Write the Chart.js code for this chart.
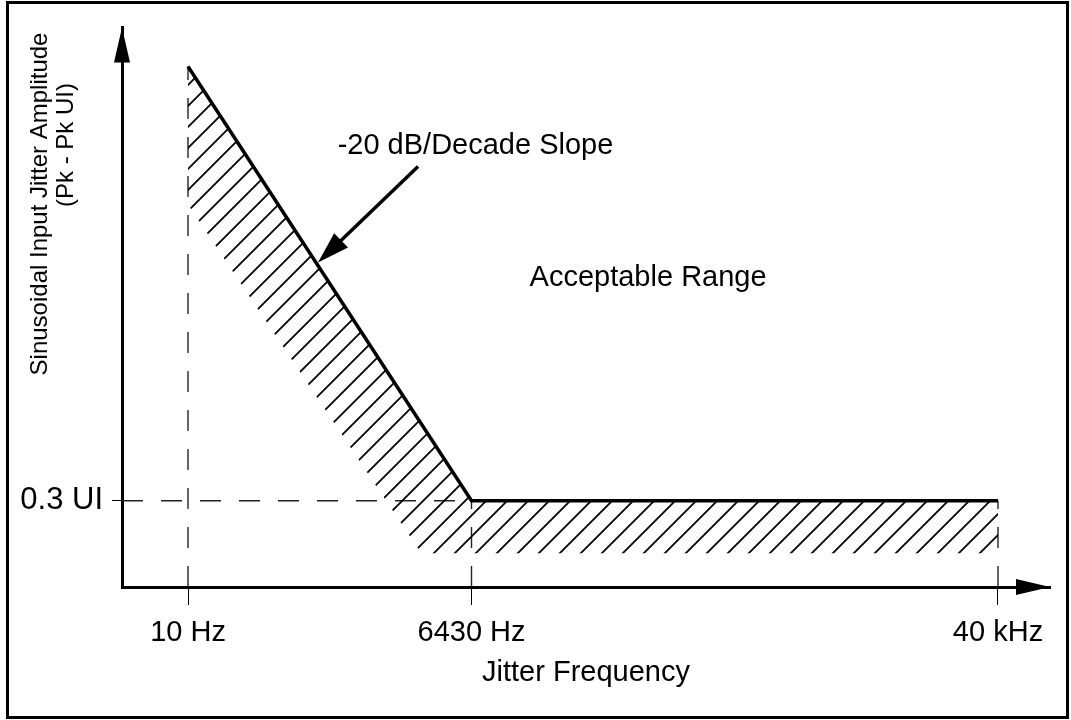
<!DOCTYPE html>
<html lang="en">
  <head>
    <meta charset="UTF-8" />
    <title>Sinusoidal Input Jitter Tolerance</title>
    <script src="https://cdn.jsdelivr.net/npm/chart.js"></script>
    <style>
      body {
        margin: 0;
        background: #fff;
      }
      .frame {
        position: relative;
        width: 1071px;
        height: 720px;
      }
      .frame::after {
        content: '';
        position: absolute;
        box-sizing: border-box;
        left: 6px;
        top: 1px;
        width: 1063px;
        height: 718px;
        border: 3px solid #000;
        pointer-events: none;
      }
    </style>
  </head>
  <body>
    <div class="frame">
      <canvas id="jitterChart" width="1071" height="720"></canvas>
    </div>
    <script>
      // the frequency axis is only schematic: 10 Hz sits at 0, 40 kHz at 10
      const freqLabels = ['10 Hz', '6430 Hz', '40 kHz'];
      const freqPos = [0, 3.5, 10];
      // tolerance mask (upper edge of the hatched band), in UI
      const maskAmp = [1.81, 0.3, 0.3];
      // lower edge of the hatched band
      const hatchX = [0, 2.88, 10];
      const hatchAmp = [1.33, 0.117, 0.117];
      const ampTick = 0.3;
      const ampTickLabel = '0.3 UI';
      const yTitle = ['Sinusoidal Input Jitter Amplitude', '(Pk - Pk UI)'];
      const xTitle = 'Jitter Frequency';
      const slopeText = '-20 dB/Decade Slope';
      const rangeText = 'Acceptable Range';

      const X_MIN = -0.815;
      const X_MAX = 10.642;
      const Y_MAX = 1.945;
      const FONT = '"Liberation Sans", Arial, Helvetica, sans-serif';

      const pts = (xs, ys) => xs.map((x, i) => ({ x: x, y: ys[i] }));

      const canvas = document.getElementById('jitterChart');
      const ctx = canvas.getContext('2d');

      // diagonal hatch used for the fill between mask and its lower edge
      function makeHatch() {
        const s = 21;
        const c = document.createElement('canvas');
        c.width = s;
        c.height = s;
        const g = c.getContext('2d');
        g.strokeStyle = '#000';
        g.lineWidth = 1.8;
        g.beginPath();
        g.moveTo(0, s);
        g.lineTo(s, 0);
        g.moveTo(-3, 3);
        g.lineTo(3, -3);
        g.moveTo(s - 3, s + 3);
        g.lineTo(s + 3, s - 3);
        g.stroke();
        return ctx.createPattern(c, 'repeat');
      }

      function arrowHead(c, tipX, tipY, angle, len, half) {
        c.save();
        c.translate(tipX, tipY);
        c.rotate(angle);
        c.beginPath();
        c.moveTo(0, 0);
        c.lineTo(-len, -half);
        c.lineTo(-len, half);
        c.closePath();
        c.fill();
        c.restore();
      }

      const dash = (xs, ys) => ({
        data: pts(xs, ys),
        borderColor: '#222',
        borderWidth: 1.4,
        borderDash: [21, 18],
        pointRadius: 0,
        fill: false,
      });

      const decorations = {
        id: 'decorations',
        afterDraw(chart) {
          const c = chart.ctx;
          const { left, right, top, bottom } = chart.chartArea;
          const xs = chart.scales.x;
          const ys = chart.scales.y;
          c.save();
          c.fillStyle = '#000';
          c.strokeStyle = '#000';

          // axis arrow heads
          arrowHead(c, left, top, -Math.PI / 2, 35, 8);
          arrowHead(c, right, bottom, 0, 34, 8);

          // slope pointer
          const x1 = xs.getPixelForValue(2.84);
          const y1 = ys.getPixelForValue(1.462);
          const x2 = xs.getPixelForValue(1.605);
          const y2 = ys.getPixelForValue(1.128);
          const ang = Math.atan2(y2 - y1, x2 - x1);
          c.lineWidth = 3.5;
          c.beginPath();
          c.moveTo(x1, y1);
          c.lineTo(x2 - 25 * Math.cos(ang), y2 - 25 * Math.sin(ang));
          c.stroke();
          arrowHead(c, x2, y2, ang, 32, 10);

          // annotation texts
          c.font = '29px ' + FONT;
          c.textAlign = 'center';
          c.textBaseline = 'alphabetic';
          c.fillText(slopeText, xs.getPixelForValue(3.549), ys.getPixelForValue(1.507));
          c.fillText(rangeText, xs.getPixelForValue(5.68), ys.getPixelForValue(1.048));

          // two-line y axis title
          c.font = '24px ' + FONT;
          c.textBaseline = 'middle';
          const centers = [204, 145];
          yTitle.forEach((line, i) => {
            c.save();
            c.translate(ys.left + 40 + i * 26, centers[i]);
            c.rotate(-Math.PI / 2);
            c.fillText(line, 0, 0);
            c.restore();
          });
          c.restore();
        },
      };

      new Chart(ctx, {
        type: 'line',
        data: {
          datasets: [
            {
              data: pts(freqPos, maskAmp),
              borderColor: '#000',
              borderWidth: 3.5,
              pointRadius: 0,
              backgroundColor: makeHatch(),
              fill: '+1',
            },
            {
              data: pts(hatchX, hatchAmp),
              borderWidth: 0,
              borderColor: 'rgba(0,0,0,0)',
              pointRadius: 0,
              fill: false,
            },
            dash([freqPos[0], freqPos[0]], [0, maskAmp[0]]),
            dash([freqPos[1], freqPos[1]], [0, ampTick]),
            dash([freqPos[2], freqPos[2]], [0, ampTick]),
            dash([X_MIN, freqPos[1]], [ampTick, ampTick]),
          ],
        },
        options: {
          responsive: false,
          animation: false,
          layout: { padding: { left: 0, top: 23, right: 21, bottom: 0 } },
          plugins: {
            legend: { display: false },
            tooltip: { enabled: false },
          },
          scales: {
            x: {
              type: 'linear',
              min: X_MIN,
              max: X_MAX,
              afterBuildTicks: (s) => {
                s.ticks = freqPos.map((v) => ({ value: v }));
              },
              afterFit: (s) => {
                s.height = 133;
              },
              ticks: {
                callback: (v) => freqLabels[freqPos.indexOf(v)],
                color: '#000',
                font: { family: FONT, size: 29 },
                padding: 11,
                maxRotation: 0,
                autoSkip: false,
              },
              grid: {
                drawOnChartArea: false,
                tickLength: 18,
                color: '#000',
                lineWidth: 1,
              },
              border: { color: '#000', width: 3 },
              title: {
                display: true,
                text: xTitle,
                color: '#000',
                font: { family: FONT, size: 29 },
                padding: { top: 0, bottom: 30 },
              },
            },
            y: {
              min: 0,
              max: Y_MAX,
              afterBuildTicks: (s) => {
                s.ticks = [{ value: ampTick }];
              },
              afterFit: (s) => {
                s.width = 122;
              },
              ticks: {
                callback: () => ampTickLabel,
                color: '#000',
                font: { family: FONT, size: 31 },
                padding: 9,
              },
              grid: {
                drawOnChartArea: false,
                tickLength: 10,
                color: '#000',
                lineWidth: 1,
              },
              border: { color: '#000', width: 3 },
            },
          },
        },
        plugins: [decorations],
      });
    </script>
  </body>
</html>
